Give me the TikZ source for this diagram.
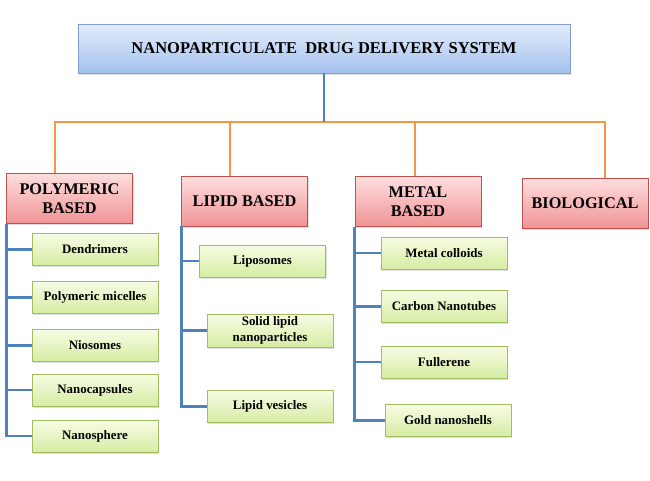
\documentclass[tikz,border=0pt]{standalone}
\usepackage{fontspec}
\setmainfont{Liberation Serif}
\usetikzlibrary{positioning,shadows}
\definecolor{TitleTop}{RGB}{228,237,251}
\definecolor{TitleBot}{RGB}{163,193,238}
\definecolor{TitleLine}{RGB}{125,158,208}
\definecolor{PinkTop}{RGB}{254,222,222}
\definecolor{PinkBot}{RGB}{240,148,150}
\definecolor{PinkLine}{RGB}{190,80,78}
\definecolor{GreenTop}{RGB}{247,252,228}
\definecolor{GreenBot}{RGB}{214,236,163}
\definecolor{GreenLine}{RGB}{160,190,95}
\definecolor{LinkOrange}{RGB}{247,150,70}
\definecolor{LinkBlue}{RGB}{79,129,189}

\begin{document}
\begin{tikzpicture}[x=1pt, y=-1pt,
  titlebox/.style={rectangle, draw=TitleLine, top color=TitleTop, bottom color=TitleBot,
    minimum width=492pt, minimum height=49pt, font=\fontsize{16.5}{19}\selectfont\bfseries,
    drop shadow={opacity=0.25, shadow xshift=1.2pt, shadow yshift=-1.5pt}},
  catbox/.style={rectangle, draw=PinkLine, top color=PinkTop, bottom color=PinkBot,
    minimum width=126pt, minimum height=50pt, inner sep=2pt, align=center,
    font=\fontsize{16.3}{19}\selectfont\bfseries,
    drop shadow={opacity=0.25, shadow xshift=1.2pt, shadow yshift=-1.5pt}},
  itembox/.style={rectangle, draw=GreenLine, top color=GreenTop, bottom color=GreenBot,
    minimum width=126pt, minimum height=32pt, inner sep=2pt, align=center,
    font=\fontsize{12.9}{16}\selectfont\bfseries,
    drop shadow={opacity=0.25, shadow xshift=1.2pt, shadow yshift=-1.5pt}},
  olink/.style={draw=LinkOrange, line width=2pt},
  blink/.style={draw=LinkBlue, line width=2.8pt},
]
\useasboundingbox (0,0) rectangle (650,480);
% Title
\node[titlebox] (nds) at (324,48.5) {NANOPARTICULATE\ \ DRUG DELIVERY SYSTEM};
% Categories
\node[catbox] (poly) at (69.5,198.5) {POLYMERIC\\BASED};
\node[catbox] (lip) at (244.5,201) {LIPID BASED};
\node[catbox] (met) at (418,201.5) {METAL\\BASED};
\node[catbox] (bio) at (585,203) {BIOLOGICAL};
% Polymeric items
\node[itembox] (dend) at (95,249.5) {Dendrimers};
\node[itembox] (pmic) at (95,297.5) {Polymeric micelles};
\node[itembox] (nios) at (95,345.5) {Niosomes};
\node[itembox] (ncap) at (95,390) {Nanocapsules};
\node[itembox] (nsph) at (95,436) {Nanosphere};
% Lipid items
\node[itembox] (lipo) at (262.5,261) {Liposomes};
\node[itembox, minimum height=33pt] (sln) at (270,330.5) {Solid lipid\\nanoparticles};
\node[itembox] (lves) at (270,406.5) {Lipid vesicles};
% Metal items
\node[itembox] (mcol) at (444,253) {Metal colloids};
\node[itembox] (cnt) at (444,306.5) {Carbon Nanotubes};
\node[itembox] (full) at (444,362) {Fullerene};
\node[itembox] (gold) at (448,420.5) {Gold nanoshells};
% Bus
\coordinate (hub) at (nds.south |- 0,122);
\draw[olink] ([xshift=-14.5pt]poly.north) |- (hub) -| ([xshift=20pt]bio.north);
\draw[olink] ([xshift=-14.5pt]lip.north) -- ([xshift=-14.5pt]lip.north |- hub);
\draw[olink] ([xshift=-3pt]met.north) -- ([xshift=-3pt]met.north |- hub);
\draw[blink, line width=2pt] (nds.south) -- (hub);
% Brackets
\foreach \c in {dend,pmic,nios,ncap,nsph}
  \draw[blink] (poly.south west) |- (\c.west);
\foreach \c in {lipo,sln,lves}
  \draw[blink] (lip.south west) |- (\c.west);
\foreach \c in {mcol,cnt,full,gold}
  \draw[blink] (met.south west) |- (\c.west);
\end{tikzpicture}
\end{document}
